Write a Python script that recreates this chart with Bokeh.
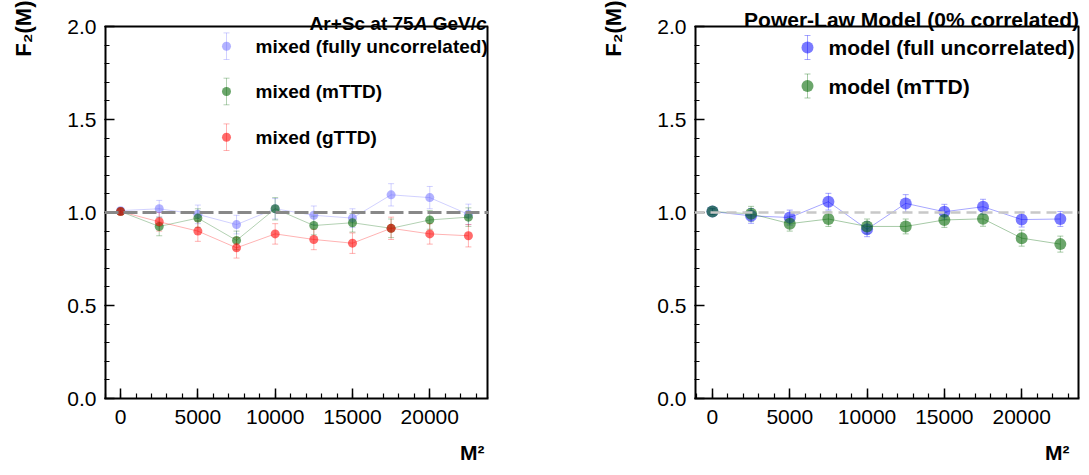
import math
from bokeh.plotting import figure
from bokeh.models import (Range1d, Span, Label, Whisker, TeeHead, ColumnDataSource,
                          FixedTicker, NumeralTickFormatter, Title)
from bokeh.layouts import row
from bokeh.embed import file_html
from bokeh.resources import INLINE

# ---------------- data ----------------
m2 = [0, 2500, 5000, 7500, 10000, 12500, 15000, 17500, 20000, 22500]

mixed_uncorr = [1.010, 1.020, 0.990, 0.935, 1.020, 0.985, 0.970, 1.095, 1.080, 0.990]
mixed_uncorr_err = [0.015, 0.045, 0.050, 0.050, 0.055, 0.050, 0.050, 0.060, 0.060, 0.055]
mixed_mttd = [1.005, 0.925, 0.970, 0.850, 1.020, 0.930, 0.945, 0.915, 0.960, 0.975]
mixed_mttd_err = [0.015, 0.050, 0.050, 0.050, 0.060, 0.050, 0.050, 0.050, 0.050, 0.050]
mixed_gttd = [1.005, 0.950, 0.900, 0.810, 0.885, 0.855, 0.835, 0.915, 0.885, 0.875]
mixed_gttd_err = [0.015, 0.050, 0.055, 0.055, 0.055, 0.055, 0.055, 0.060, 0.055, 0.060]

model_uncorr = [1.005, 0.982, 0.973, 1.058, 0.910, 1.049, 1.004, 1.031, 0.962, 0.965]
model_uncorr_err = [0.015, 0.040, 0.040, 0.045, 0.040, 0.047, 0.040, 0.040, 0.040, 0.040]
model_mttd = [1.005, 0.993, 0.940, 0.965, 0.925, 0.925, 0.960, 0.966, 0.862, 0.830]
model_mttd_err = [0.015, 0.040, 0.040, 0.040, 0.040, 0.040, 0.040, 0.040, 0.043, 0.043]

x_major = [0, 5000, 10000, 15000, 20000]
y_major = [0.0, 0.5, 1.0, 1.5, 2.0]

left_labels = ["mixed (fully uncorrelated)", "mixed (mTTD)", "mixed (gTTD)"]
right_labels = ["model (full uncorrelated)", "model (mTTD)"]

FONT = "Liberation Sans"
H = 475
FRAME_TOP = 26          # pixel where y = 2.0
FRAME_BOTTOM = 398      # pixel where y = 0.0
PPU = (FRAME_BOTTOM - FRAME_TOP) / 2.0
YMAX = 2.0 + FRAME_TOP / PPU   # frame extends to the top of the canvas


def ly(py):
    return 2 - (py - FRAME_TOP) / PPU


def spacer(standoff):
    # white (invisible) title used only to reserve room in a side panel
    return Title(text=".", text_font_size="8px", text_color="white", standoff=standoff)


def make_fig(xr, width, bl, br, m2_offset):
    p = figure(width=width, height=H, x_range=Range1d(*xr), y_range=Range1d(0, YMAX),
               output_backend="svg", toolbar_location=None,
               min_border_left=bl, min_border_right=br,
               min_border_top=0, min_border_bottom=H - FRAME_BOTTOM)
    p.title = None
    p.grid.visible = False
    p.outline_line_color = None
    p.background_fill_color = "white"
    p.border_fill_color = "white"
    p.xaxis.ticker = FixedTicker(ticks=x_major, minor_ticks=list(range(-1000, 24000, 1000)))
    p.yaxis.ticker = FixedTicker(ticks=y_major, minor_ticks=[i / 10 for i in range(21)])
    p.yaxis.formatter = NumeralTickFormatter(format="0.0")
    for ax in (p.xaxis[0], p.yaxis[0]):
        ax.major_tick_in = 10
        ax.major_tick_out = 0
        ax.minor_tick_in = 5
        ax.minor_tick_out = 0
        ax.major_tick_line_width = 1.5
        ax.minor_tick_line_width = 1.2
        ax.major_label_text_font = FONT
        ax.major_label_text_font_size = "21px"
        ax.major_label_text_color = "black"
    p.xaxis.axis_line_width = 2
    p.yaxis.axis_line_color = None
    p.xaxis.major_label_standoff = 11
    p.yaxis.major_label_standoff = 8
    # plot box (frame of the data area, below the title strip)
    p.multi_line(xs=[[xr[0], xr[0]], [xr[1], xr[1]], [xr[0], xr[1]]],
                 ys=[[0, 2], [0, 2], [2, 2]], line_color="black", line_width=[4, 4, 2])
    # axis titles (with invisible spacers between axis and title)
    p.add_layout(spacer(22), "left")
    p.add_layout(Title(text="F\u2082(M)", align="right", text_font=FONT,
                       text_font_size="22px", text_font_style="bold",
                       text_color="black", standoff=0), "left")
    p.add_layout(spacer(5), "below")
    p.add_layout(Title(text="M\u00b2", align="right", text_font=FONT, offset=m2_offset,
                       text_font_size="21px", text_font_style="bold",
                       text_color="black", standoff=0), "below")
    return p


def add_whisker(p, src, color, line_alpha):
    w = Whisker(source=src, base="x", lower="lo", upper="hi", dimension="height",
                line_color=color, line_alpha=line_alpha, line_width=1,
                upper_head=TeeHead(size=6, line_color=color, line_alpha=line_alpha, line_width=1),
                lower_head=TeeHead(size=6, line_color=color, line_alpha=line_alpha, line_width=1))
    p.add_layout(w)


def series(p, y, err, color, alpha, size, line_alpha):
    src = ColumnDataSource(dict(x=m2, y=y, lo=[a - e for a, e in zip(y, err)],
                                hi=[a + e for a, e in zip(y, err)]))
    p.line("x", "y", source=src, line_color=color, line_alpha=line_alpha, line_width=1)
    add_whisker(p, src, color, line_alpha)
    p.scatter("x", "y", source=src, size=size, fill_color=color, fill_alpha=alpha,
              line_color=None)


def legend_mark(p, x, y, dy, color, alpha, size, line_alpha):
    src = ColumnDataSource(dict(x=[x], y=[y], lo=[y - dy], hi=[y + dy]))
    add_whisker(p, src, color, line_alpha)
    p.scatter("x", "y", source=src, size=size, fill_color=color, fill_alpha=alpha,
              line_color=None)


def txt(p, x, y, text, size, align="left", baseline="middle", style="bold"):
    p.add_layout(Label(x=x, y=y, text=text, text_font=FONT, text_font_size=size,
                       text_font_style=style, text_align=align, text_baseline=baseline,
                       text_color="black"))


# ---------------- left panel ----------------
LX = (-1040, 23800)
pL = make_fig(LX, 544, 104, 56, 4)


def lx(px):
    return LX[0] + (px - 104) / (384.0 / (LX[1] - LX[0]))


pL.add_layout(Span(location=1.0, dimension="width", line_color="#888888",
                   line_width=3, line_dash="14 5"))
BLUE_L, GREEN_L, RED_L = "#6666ff", "#006600", "#ff0000"
series(pL, mixed_uncorr, mixed_uncorr_err, BLUE_L, 0.5, 9, 0.3)
series(pL, mixed_mttd, mixed_mttd_err, GREEN_L, 0.58, 9, 0.3)
series(pL, mixed_gttd, mixed_gttd_err, RED_L, 0.58, 9, 0.3)

for (py, col, a), lab in zip([(45.7, BLUE_L, 0.5), (91, GREEN_L, 0.58), (136.7, RED_L, 0.58)],
                             left_labels):
    legend_mark(pL, lx(226), ly(py), 13.3 / PPU, col, a, 9, 0.3)
    txt(pL, lx(255), ly(py), lab, "19px")

# title with italics, built right-to-left
fs = 19
txt(pL, lx(486), ly(23), "c", f"{fs}px", align="right", baseline="alphabetic", style="bold italic")
txt(pL, lx(486 - 0.556 * fs), ly(23), "GeV/", f"{fs}px", align="right", baseline="alphabetic")
xa = 486 - 0.556 * fs - 2.279 * fs - 0.278 * fs
txt(pL, lx(xa), ly(23), "A", f"{fs}px", align="right", baseline="alphabetic", style="bold italic")
txt(pL, lx(xa - 0.722 * fs), ly(23), "Ar+Sc at 75", f"{fs}px", align="right", baseline="alphabetic")

# ---------------- right panel ----------------
RX = (-1160, 23740)
pR = make_fig(RX, 545, 150, 10, 10)


def rx(px):
    return RX[0] + (px - 694) / (385.0 / (RX[1] - RX[0]))


pR.add_layout(Span(location=1.0, dimension="width", line_color="#c8c8c8",
                   line_width=2.5, line_dash="10 6"))
BLUE_R, GREEN_R = "#0000ff", "#006600"
series(pR, model_uncorr, model_uncorr_err, BLUE_R, 0.52, 12, 0.35)
series(pR, model_mttd, model_mttd_err, GREEN_R, 0.58, 12, 0.35)

for (py, col, a), lab in zip([(47, BLUE_R, 0.52), (85.5, GREEN_R, 0.58)], right_labels):
    legend_mark(pR, rx(807), ly(py), 12.0 / PPU, col, a, 12, 0.35)
    txt(pR, rx(828), ly(py), lab, "21px")

txt(pR, rx(1078.5), ly(18.5), "Power-Law Model (0% correlated)", "21px", align="right",
    baseline="alphabetic")

layout = row(pL, pR)
open("out.html", "w").write(file_html(layout, INLINE))
